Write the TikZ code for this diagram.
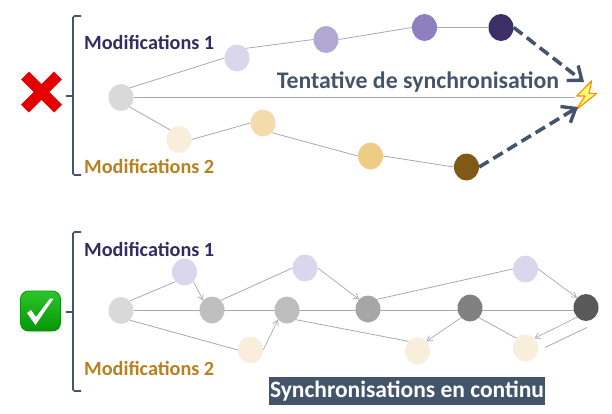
\documentclass[tikz,border=0pt]{standalone}
\usepackage{fontspec}
\setmainfont{Carlito}
\usetikzlibrary{arrows.meta,shapes.geometric,backgrounds}
\definecolor{slate}{HTML}{44546A}
\definecolor{wire}{HTML}{A3A9B8}
\definecolor{inkOne}{HTML}{332C61}
\definecolor{inkTwo}{HTML}{B8801F}
\definecolor{lilacA}{HTML}{DAD6EB}
\definecolor{lilacB}{HTML}{B2A9D2}
\definecolor{lilacC}{HTML}{8D7FC0}
\definecolor{lilacD}{HTML}{3B2F66}
\definecolor{sandA}{HTML}{F9EEDB}
\definecolor{sandB}{HTML}{F4DBAD}
\definecolor{sandC}{HTML}{EFCC85}
\definecolor{sandD}{HTML}{7F5915}
\definecolor{okTop}{HTML}{2CC52C}
\definecolor{okLow}{HTML}{079507}
\tikzset{
  commit/.style={ellipse, inner sep=0pt, minimum width=25pt, minimum height=27pt, fill=#1},
  branch/.style={line width=.8pt, draw=wire},
  merge/.style={-{Straight Barb[length=5pt,width=6pt]}, line width=.7pt, draw=wire},
  attempt/.style={-{Straight Barb[length=12pt,width=19pt,line width=3.4pt]}, line width=3.6pt, draw=slate, dash pattern=on 11pt off 5.5pt},
  bracket/.style={line width=1.7pt, draw=slate, rounded corners=1.5pt},
  modlabel/.style={anchor=west, inner sep=0pt, font=\fontsize{20.2}{22}\selectfont\bfseries},
  banner/.style={inner sep=0pt, font=\fontsize{23.8}{26}\selectfont\bfseries}
}
\begin{document}
\begin{tikzpicture}[x=1pt, y=-1pt]
  \useasboundingbox (0,0) rectangle (612,413);
  % conflicting branches
  \draw[bracket] (81,16) -- (73,16) -- (73,175) -- (81,175);
  \draw[bracket] (66,96) -- (73,96);
  \draw[red!90!black, line width=11pt] (25,75.5) -- (58,108.5) (58,75.5) -- (25,108.5);
  \node[commit=black!15] (base) at (121,97.5) {};
  \node[commit=lilacA] (a1) at (237,58) {};
  \node[commit=lilacB] (a2) at (326,39.5) {};
  \node[commit=lilacC] (a3) at (424.5,27.5) {};
  \node[commit=lilacD] (a4) at (501,27.5) {};
  \node[commit=sandA] (b1) at (179,139.5) {};
  \node[commit=sandB] (b2) at (263,123) {};
  \node[commit=sandC] (b3) at (370.5,156) {};
  \node[commit=sandD] (b4) at (466.5,167) {};
  \node[minimum width=22pt, minimum height=32pt, inner sep=0pt] (bolt) at (586,97.5) {};
  \coordinate (hitTop) at (584,82);
  \coordinate (hitLow) at (578,107);
  \draw[shift={(bolt.center)}, draw=orange!90!yellow, fill=yellow!55, line width=1.1pt, line join=round]
    (5.7,-16.8) -- (-9.3,-1.5) -- (-1,-1.5) -- (-10,12.5) -- (10.7,-4.2) -- (3,-4.2) -- cycle;
  \node[modlabel, text=inkOne] (mod1a) at (84,42) {Modifications 1};
  \node[modlabel, text=inkTwo] (mod2a) at (84,166) {Modifications 2};
  \node[banner, text=slate] (attempt) at (418,82) {Tentative de synchronisation};
  \draw[branch] (base.north east) -- (a1.west);
  \draw[branch] (a1.north east) -- (a2.west);
  \draw[branch] (a2.east) -- (a3.west);
  \draw[branch] (a3.east) -- (a4.west);
  \draw[branch] (base.south east) -- (b1.north west);
  \draw[branch] (b1.east) -- (b2.west);
  \draw[branch] (b2.south east) -- (b3.west);
  \draw[branch] (b3.east) -- (b4.west);
  \draw[branch] (base.east) -- (bolt.west);
  \draw[attempt] (a4.east) -- (hitTop);
  \draw[attempt] (b4.east) -- (hitLow);
  % continuous synchronisation
  \draw[bracket] (81,232) -- (73,232) -- (73,391) -- (81,391);
  \draw[bracket] (66,312) -- (73,312);
  \node[draw=okLow, top color=okTop, bottom color=okLow, rounded corners=8pt, line width=.8pt, minimum size=40pt, inner sep=0pt] (okbox) at (40.5,311) {};
  \fill[white, shift={(okbox.center)}] (-13.5,2) -- (-9.5,-1) -- (-4.5,6) -- (9.5,-12.5) -- (13,-12.5) -- (-5,14) -- cycle;
  \node[commit=black!15] (start) at (121,310.5) {};
  \node[commit=black!25] (g1) at (212,310) {};
  \node[commit=black!26] (g2) at (287,310) {};
  \node[commit=black!35] (g3) at (368,309) {};
  \node[commit=black!50] (g4) at (470,308) {};
  \node[commit=black!65] (g5) at (586,307.5) {};
  \node[commit=lilacA] (p1) at (184.5,272) {};
  \node[commit=lilacA] (p2) at (305,268) {};
  \node[commit=lilacA] (p3) at (525.5,269) {};
  \node[commit=sandA] (q1) at (250.5,350) {};
  \node[commit=sandA] (q2) at (417.5,351) {};
  \node[commit=sandA] (q3) at (525.5,348) {};
  \coordinate (echoA) at (587,327.5);
  \coordinate (echoB) at (545,347.5);
  \node[modlabel, text=inkOne] (mod1b) at (84,249) {Modifications 1};
  \node[modlabel, text=inkTwo] (mod2b) at (84,368) {Modifications 2};
  \node[banner, font=\fontsize{23.5}{26}\selectfont\bfseries, fill=slate, text=white, minimum width=276pt, minimum height=28pt] (sync) at (407,391) {Synchronisations en continu};
  \begin{scope}[on background layer]
    \draw[branch] (start) -- (start -| g5);
  \end{scope}
  \draw[branch] (start.north east) -- (p1.south west);
  \draw[branch] (g1.north east) -- (p2.west);
  \draw[branch] (g3.north east) -- (p3.west);
  \draw[branch] (start.south east) -- (q1.west);
  \draw[branch] (g2.south east) -- (q2.north west);
  \draw[branch] (g4.south east) -- (q3.north west);
  \draw[branch] (echoA) -- (echoB);
  \draw[merge] (p1.south east) -- (g1.north west);
  \draw[merge] (p2.east) -- (g3.north west);
  \draw[merge] (p3.east) -- (g5.north west);
  \draw[merge] (q1.east) -- (g2.south west);
  \draw[merge] (g4.south west) -- (q2.north east);
  \draw[merge] (g5.south west) -- (q3.north east);
\end{tikzpicture}
\end{document}
